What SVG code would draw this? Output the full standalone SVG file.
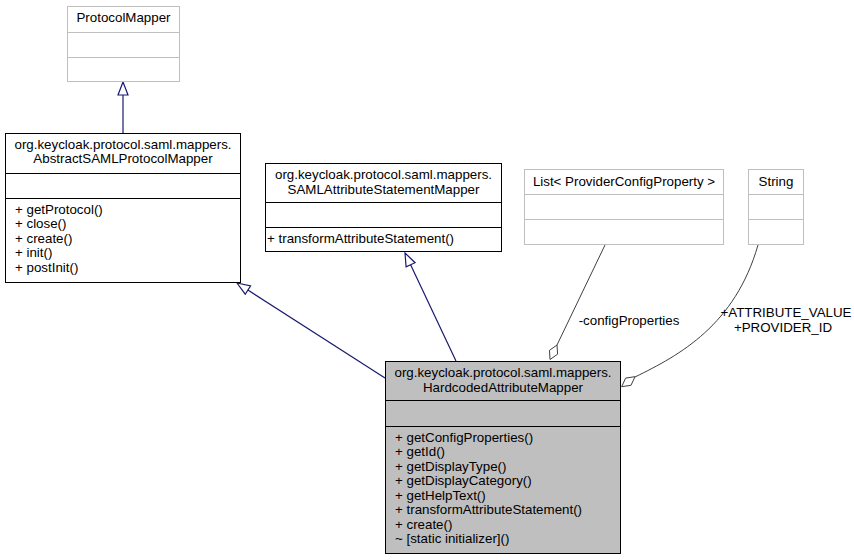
<svg xmlns="http://www.w3.org/2000/svg" width="854" height="560" viewBox="0 0 854 560">
<style>
text{font-family:"Liberation Sans",Arial,sans-serif;font-size:13.33px;fill:#000}
.c{text-anchor:middle}
.box{fill:#fff;stroke:#000;stroke-width:1}
.gbox{fill:#fff;stroke:#bfbfbf;stroke-width:1}
.sel{fill:#bfbfbf;stroke:#000;stroke-width:1}
.div{stroke:#000;stroke-width:1}
.gdiv{stroke:#bfbfbf;stroke-width:1}
.inh{fill:none;stroke:#191970;stroke-width:1.2}
.inhh{fill:#fff;stroke:#191970;stroke-width:1.2}
.agg{fill:none;stroke:#404040;stroke-width:1}
.aggh{fill:#fff;stroke:#404040;stroke-width:1}
</style>
<rect width="854" height="560" fill="#fff"/>
<g id="connectors">
<path class="inh" d="M123,133 L123,95"/>
<polygon class="inhh" points="123,82 128,95 118,95"/>
<path class="inh" d="M385,378 L247.9,290"/>
<polygon class="inhh" points="237,283 250.6,285.8 245.2,294.2"/>
<path class="inh" d="M456,361 L410.6,264.8"/>
<polygon class="inhh" points="405,253 415.1,262.7 406.1,266.9"/>
<path class="agg" d="M605,245 L557,345"/>
<polygon class="aggh" points="557,345 557.6,354.2 550,359.5 549.5,350.3"/>
<path class="agg" d="M758,245 C735,325 680,355 635,377"/>
<polygon class="aggh" points="635,376.7 631,385.3 621.7,386.7 625.6,378.1"/>
<text class="c" x="629" y="325">-configProperties</text>
<text class="c" x="786" y="317">+ATTRIBUTE_VALUE</text>
<text class="c" x="783" y="332">+PROVIDER_ID</text>
</g>
<g id="ProtocolMapper">
<rect class="gbox" x="67.5" y="6.5" width="112" height="75"/>
<line class="gdiv" x1="67.5" y1="32.5" x2="179.5" y2="32.5"/>
<line class="gdiv" x1="67.5" y1="57.5" x2="179.5" y2="57.5"/>
<text class="c" x="123.5" y="22">ProtocolMapper</text>
</g>
<g id="AbstractSAMLProtocolMapper">
<rect class="box" x="5.5" y="133.5" width="235" height="149"/>
<line class="div" x1="5.5" y1="173.5" x2="240.5" y2="173.5"/>
<line class="div" x1="5.5" y1="198.5" x2="240.5" y2="198.5"/>
<text class="c" x="123" y="148.5">org.keycloak.protocol.saml.mappers.</text>
<text class="c" x="123" y="163">AbstractSAMLProtocolMapper</text>
<text x="15" y="213.5">+ getProtocol()</text>
<text x="15" y="228">+ close()</text>
<text x="15" y="242.5">+ create()</text>
<text x="15" y="257">+ init()</text>
<text x="15" y="271.5">+ postInit()</text>
</g>
<g id="SAMLAttributeStatementMapper">
<rect class="box" x="265.5" y="163.5" width="236" height="88"/>
<line class="div" x1="265.5" y1="202.5" x2="501.5" y2="202.5"/>
<line class="div" x1="265.5" y1="227.5" x2="501.5" y2="227.5"/>
<text class="c" x="383.5" y="179">org.keycloak.protocol.saml.mappers.</text>
<text class="c" x="383.5" y="193.5">SAMLAttributeStatementMapper</text>
<text x="267" y="243">+ transformAttributeStatement()</text>
</g>
<g id="ListProviderConfigProperty">
<rect class="gbox" x="524.5" y="169.5" width="199" height="75"/>
<line class="gdiv" x1="524.5" y1="194.5" x2="723.5" y2="194.5"/>
<line class="gdiv" x1="524.5" y1="219.5" x2="723.5" y2="219.5"/>
<text class="c" x="624" y="185.5">List&lt; ProviderConfigProperty &gt;</text>
</g>
<g id="String">
<rect class="gbox" x="748.5" y="169.5" width="55" height="75"/>
<line class="gdiv" x1="748.5" y1="194.5" x2="803.5" y2="194.5"/>
<line class="gdiv" x1="748.5" y1="219.5" x2="803.5" y2="219.5"/>
<text class="c" x="776" y="185.5">String</text>
</g>
<g id="HardcodedAttributeMapper">
<rect class="sel" x="385.5" y="361.5" width="235" height="192"/>
<line class="div" x1="385.5" y1="400.5" x2="620.5" y2="400.5"/>
<line class="div" x1="385.5" y1="426.5" x2="620.5" y2="426.5"/>
<text class="c" x="503" y="377">org.keycloak.protocol.saml.mappers.</text>
<text class="c" x="503" y="391.5">HardcodedAttributeMapper</text>
<text x="395" y="441.5">+ getConfigProperties()</text>
<text x="395" y="456">+ getId()</text>
<text x="395" y="470.5">+ getDisplayType()</text>
<text x="395" y="485">+ getDisplayCategory()</text>
<text x="395" y="499.5">+ getHelpText()</text>
<text x="395" y="514">+ transformAttributeStatement()</text>
<text x="395" y="528.5">+ create()</text>
<text x="395" y="543">~ [static initializer]()</text>
</g>
</svg>
